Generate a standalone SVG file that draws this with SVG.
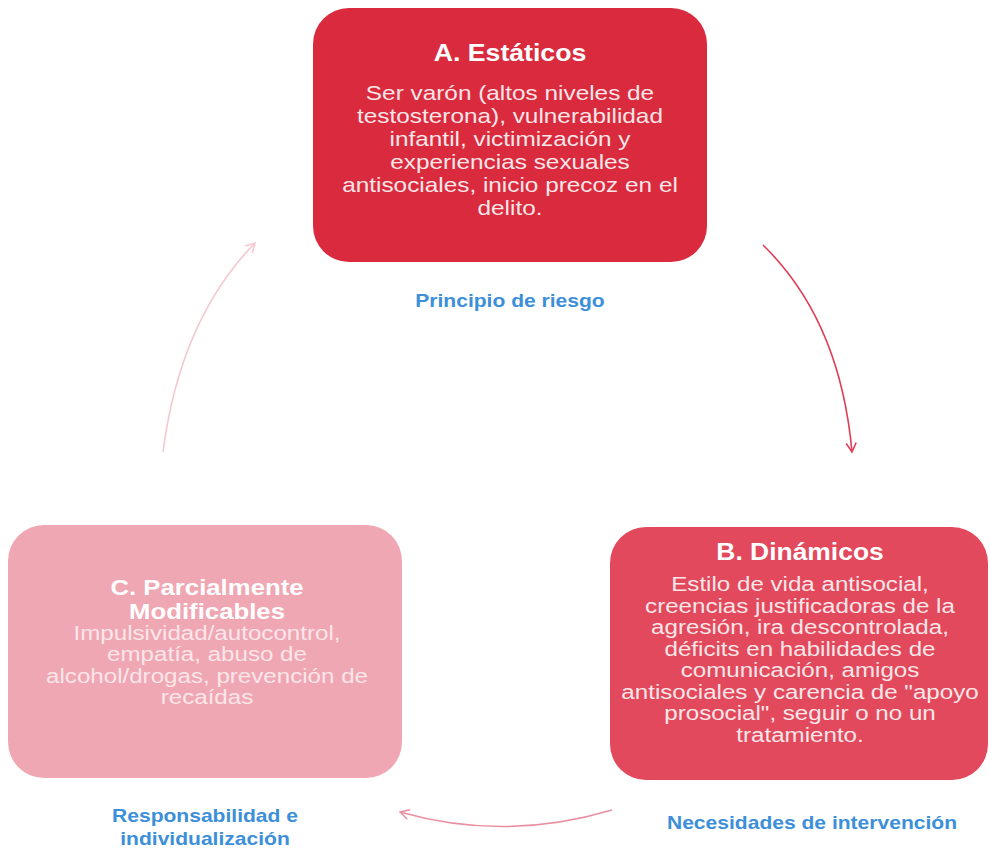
<svg xmlns="http://www.w3.org/2000/svg" width="990" height="854" viewBox="0 0 990 854">
<defs>
<style>
text{font-family:"Liberation Sans",Arial,sans-serif;text-anchor:middle}
.h{font-size:23px;font-weight:bold;fill:#ffffff}
.b{font-size:21px;fill:#fbe6e8}
.lbl{font-size:18px;font-weight:bold;fill:#3c8fd8}
</style>
<marker id="mA" viewBox="0 0 12 12" refX="10" refY="6" markerWidth="12" markerHeight="12" markerUnits="userSpaceOnUse" orient="auto"><path d="M1,1 L10,6 L1,11" fill="none" stroke="#df3d55" stroke-width="1.5"/></marker>
<marker id="mB" viewBox="0 0 12 12" refX="10" refY="6" markerWidth="12" markerHeight="12" markerUnits="userSpaceOnUse" orient="auto"><path d="M1,1 L10,6 L1,11" fill="none" stroke="#ea8fa0" stroke-width="1.5"/></marker>
<marker id="mC" viewBox="0 0 12 12" refX="10" refY="6" markerWidth="12" markerHeight="12" markerUnits="userSpaceOnUse" orient="auto"><path d="M1,1 L10,6 L1,11" fill="none" stroke="#f5c8d0" stroke-width="1.5"/></marker>
</defs>
<rect width="990" height="854" fill="#ffffff"/>
<g id="connectors" fill="none" stroke-width="1.6">
<path d="M763,245 Q840,320 852,452" stroke="#df3d55" marker-end="url(#mA)"/>
<path d="M612,810 Q505,842 400,812" stroke="#ea8fa0" marker-end="url(#mB)"/>
<path d="M163,452 Q180,320 255,243" stroke="#f5c8d0" marker-end="url(#mC)"/>
</g>
<g id="nodeA">
<rect x="313" y="8" width="394" height="254" rx="36" fill="#d92a3e"/>
<g transform="translate(510,0) scale(1.16,1)">
<text class="h" x="0" y="61">A. Estáticos</text>
<text class="b" x="0" y="100">Ser varón (altos niveles de</text>
<text class="b" x="0" y="123">testosterona), vulnerabilidad</text>
<text class="b" x="0" y="146">infantil, victimización y</text>
<text class="b" x="0" y="169">experiencias sexuales</text>
<text class="b" x="0" y="192">antisociales, inicio precoz en el</text>
<text class="b" x="0" y="215">delito.</text>
</g>
</g>
<g id="nodeB">
<rect x="610" y="527" width="378" height="253" rx="36" fill="#e2495d"/>
<g transform="translate(800,0) scale(1.15,1)">
<text class="h" x="0" y="560">B. Dinámicos</text>
<text class="b" x="0" y="591">Estilo de vida antisocial,</text>
<text class="b" x="0" y="613">creencias justificadoras de la</text>
<text class="b" x="0" y="634">agresión, ira descontrolada,</text>
<text class="b" x="0" y="656">déficits en habilidades de</text>
<text class="b" x="0" y="677">comunicación, amigos</text>
<text class="b" x="0" y="699">antisociales y carencia de "apoyo</text>
<text class="b" x="0" y="720">prosocial", seguir o no un</text>
<text class="b" x="0" y="742">tratamiento.</text>
</g>
</g>
<g id="nodeC">
<rect x="8" y="525" width="394" height="253" rx="36" fill="#f0a7b4"/>
<g transform="translate(207,0) scale(1.17,1)">
<text class="h" x="0" y="595" style="font-size:22px" fill="#fdeff1">C. Parcialmente</text>
<text class="h" x="0" y="619" style="font-size:22px">Modificables</text>
</g>
<g transform="translate(207,0) scale(1.15,1)">
<text class="b" x="0" y="640">Impulsividad/autocontrol,</text>
<text class="b" x="0" y="661">empatía, abuso de</text>
<text class="b" x="0" y="683">alcohol/drogas, prevención de</text>
<text class="b" x="0" y="704">recaídas</text>
</g>
</g>
<g id="labels">
<g transform="translate(510,0) scale(1.17,1)"><text class="lbl" x="0" y="307">Principio de riesgo</text></g>
<g transform="translate(812,0) scale(1.17,1)"><text class="lbl" x="0" y="829">Necesidades de intervención</text></g>
<g transform="translate(205,0) scale(1.17,1)">
<text class="lbl" x="0" y="822">Responsabilidad e</text>
<text class="lbl" x="0" y="845">individualización</text>
</g>
</g>
</svg>
